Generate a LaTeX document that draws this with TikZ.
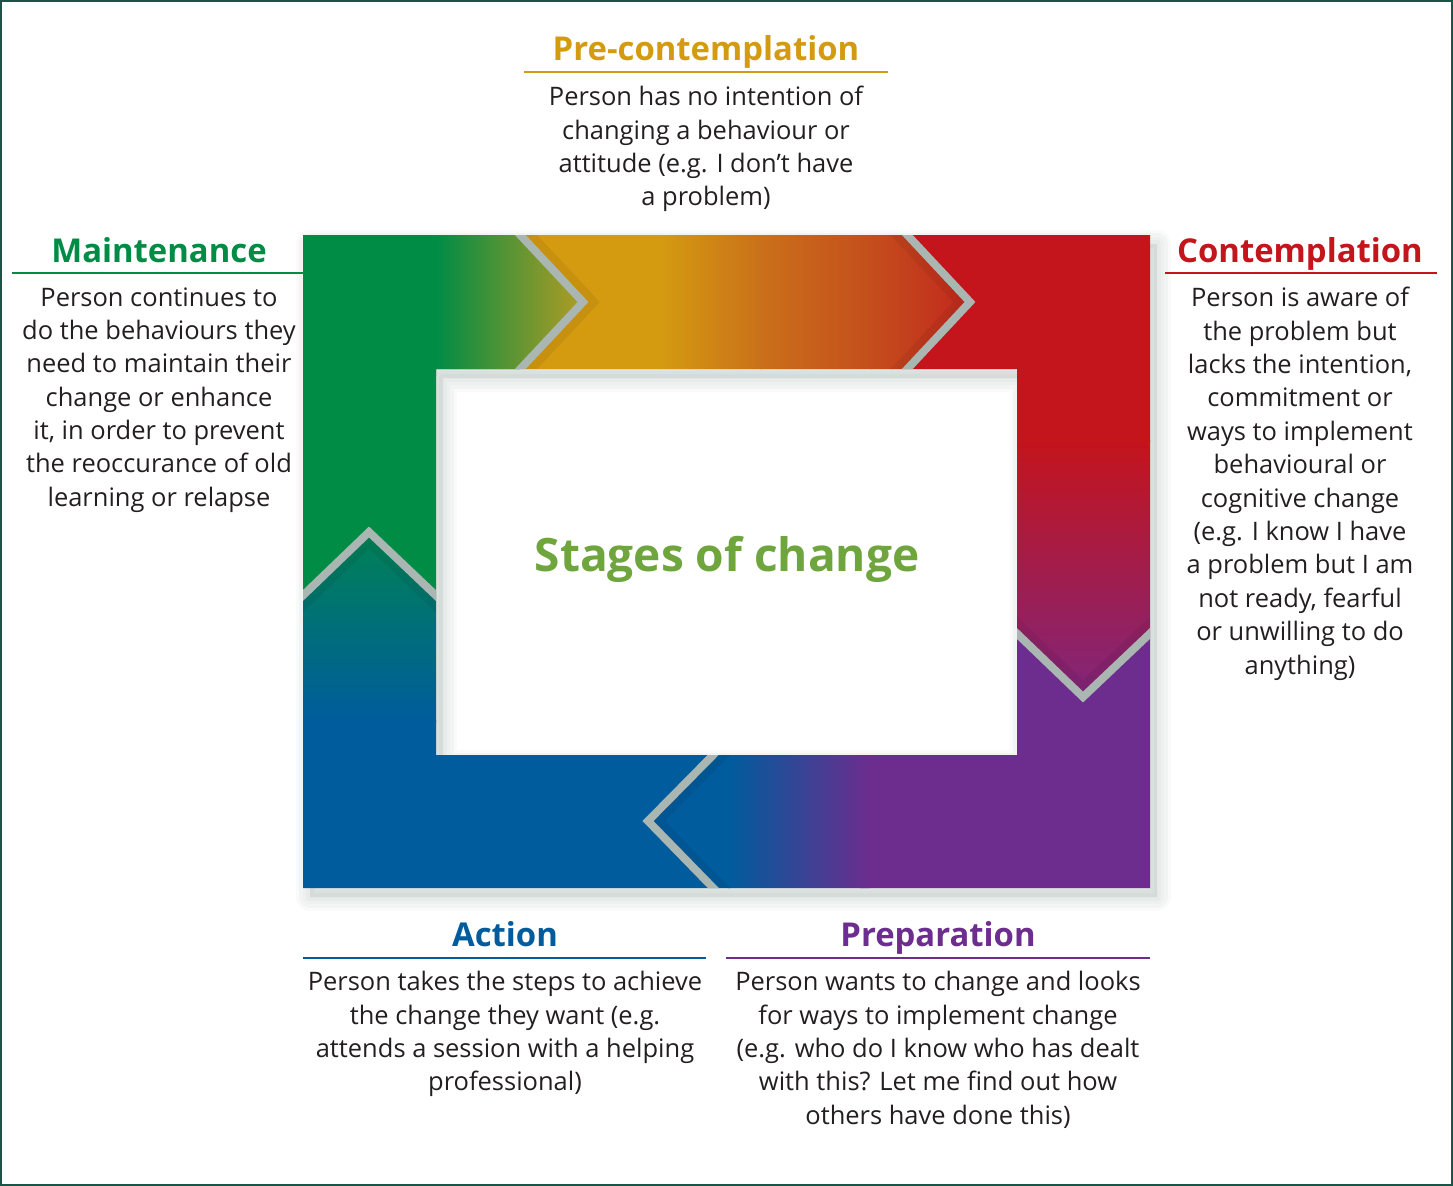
\documentclass[tikz,border=0pt]{standalone}
\usepackage{fontspec}
\setmainfont{Open Sans}

\definecolor{cgreen}{RGB}{0,140,69}
\definecolor{colive}{RGB}{178,156,35}
\definecolor{cyellow}{RGB}{212,155,16}
\definecolor{corange}{RGB}{202,112,26}
\definecolor{cdeeporange}{RGB}{196,78,28}
\definecolor{credorange}{RGB}{194,38,30}
\definecolor{cred}{RGB}{196,20,28}
\definecolor{cplum}{RGB}{128,38,124}
\definecolor{cpurple}{RGB}{108,45,142}
\definecolor{cblue}{RGB}{0,92,157}
\definecolor{cteal}{RGB}{0,130,84}
\definecolor{ctitle}{RGB}{110,165,60}
\definecolor{cchevron}{RGB}{170,182,178}
\definecolor{cframe}{RGB}{25,85,70}
\definecolor{ctext}{RGB}{35,31,32}
\definecolor{cshadow}{RGB}{50,85,75}

\begin{document}
\begin{tikzpicture}[x=0.02cm, y=-0.02cm,
    heading/.style={font=\fontsize{18.7}{22}\selectfont\bfseries, inner sep=0pt, anchor=base},
    body/.style={font=\fontsize{14.5}{19}\selectfont, text=ctext, align=center, inner sep=0pt, anchor=north},
    rule/.style={line width=1pt},
    chevron/.style={cchevron, line width=4.5pt, line join=miter},
    chevshade/.style={black, opacity=0.06, line width=9pt, line join=miter},
    shadowline/.style={cshadow, opacity=0.03, line join=round}
]

\useasboundingbox (0,0) rectangle (1453,1186);
\draw[cframe, line width=1.2pt] (1,1) rectangle (1452,1185);

% Shadow under the ring
\begin{scope}[shift={(7,9)}]
\fill[cshadow, opacity=0.1, even odd rule] (303,235) rectangle (1150,888) (436,369) rectangle (1017,755);
\foreach \w in {16,12,8,4}{
    \draw[shadowline, line width=\w pt] (303,235) rectangle (1150,888) (436,369) rectangle (1017,755);
}
\end{scope}

% Maintenance arrow
\begin{scope}
\clip (303,595) -- (303,235) -- (520,235) -- (583,302) -- (520,369) -- (436,369) -- (436,595) -- (369,532) -- cycle;
\fill[cgreen] (290,220) rectangle (600,610);
\shade[left color=cgreen, right color=colive] (436,230) rectangle (584,375);
\end{scope}

% Pre-contemplation arrow
\begin{scope}
\clip (520,235) -- (907,235) -- (970,302) -- (907,369) -- (520,369) -- (583,302) -- cycle;
\fill[cyellow] (510,230) rectangle (662,375);
\shade[left color=cyellow, right color=corange] (660,230) rectangle (762,375);
\shade[left color=corange, right color=cdeeporange] (760,230) rectangle (872,375);
\shade[left color=cdeeporange, right color=credorange] (870,230) rectangle (975,375);
\end{scope}

% Contemplation arrow
\begin{scope}
\clip (907,235) -- (1150,235) -- (1150,633) -- (1083,697) -- (1017,633) -- (1017,369) -- (907,369) -- (970,302) -- cycle;
\fill[cred] (900,230) rectangle (1160,442);
\shade[top color=cred, bottom color=cplum] (1010,440) rectangle (1160,700);
\end{scope}

% Preparation arrow
\begin{scope}
\clip (1017,633) -- (1083,697) -- (1150,633) -- (1150,888) -- (713,888) -- (648,821) -- (713,755) -- (1017,755) -- cycle;
\fill[cpurple] (860,620) rectangle (1160,895);
\fill[cblue] (640,750) rectangle (730,895);
\shade[left color=cblue, right color=cpurple] (728,750) rectangle (870,895);
\end{scope}

% Action arrow
\begin{scope}
\clip (713,755) -- (648,821) -- (713,888) -- (303,888) -- (303,595) -- (369,532) -- (436,595) -- (436,755) -- cycle;
\fill[cblue] (295,720) rectangle (720,895);
\shade[top color=cteal, bottom color=cblue] (295,530) rectangle (440,722);
\end{scope}

% Chevrons between the stages
\begin{scope}[even odd rule]
\clip (303,235) rectangle (1150,888) (436,369) rectangle (1017,755);
\draw[chevshade] (516,224) -- (589,302) -- (516,380);
\draw[chevshade] (891,224) -- (964,302) -- (891,380);
\draw[chevshade] (1006,617) -- (1083,691) -- (1161,617);
\draw[chevshade] (730,744) -- (654,821) -- (730,899);
\draw[chevshade] (292,612) -- (369,538) -- (447,612);
\draw[chevron] (510,224) -- (583,302) -- (510,380);
\draw[chevron] (897,224) -- (970,302) -- (897,380);
\draw[chevron] (1006,623) -- (1083,697) -- (1161,623);
\draw[chevron] (724,744) -- (648,821) -- (724,899);
\draw[chevron] (292,606) -- (369,532) -- (447,606);
\end{scope}

\node[font=\fontsize{26.2}{30}\selectfont\bfseries, text=ctitle] (title) at (727,559) {Stages of change};

% Pre-contemplation
\node[heading, text=cyellow] (precon) at (706,61) {Pre-contemplation};
\draw[rule, cyellow] (524,72) -- (888,72);
\node[body] (preconbody) at (706,86) {Person has no intention of\\changing a behaviour or\\attitude (e.g. I don’t have\\a problem)};

% Contemplation
\node[heading, text=cred] (con) at (1300,262) {Contemplation};
\draw[rule, cred] (1165,273) -- (1437,273);
\node[body] (conbody) at (1300,287) {Person is aware of\\the problem but\\lacks the intention,\\commitment or\\ways to implement\\behavioural or\\cognitive change\\(e.g. I know I have\\a problem but I am\\not ready, fearful\\or unwilling to do\\anything)};

% Preparation
\node[heading, text=cpurple] (prep) at (938,946) {Preparation};
\draw[rule, cpurple] (726,958) -- (1150,958);
\node[body] (prepbody) at (938,971) {Person wants to change and looks\\for ways to implement change\\(e.g. who do I know who has dealt\\with this? Let me find out how\\others have done this)};

% Action
\node[heading, text=cblue] (act) at (505,946) {Action};
\draw[rule, cblue] (303,958) -- (706,958);
\node[body] (actbody) at (505,971) {Person takes the steps to achieve\\the change they want (e.g.\\attends a session with a helping\\professional)};

% Maintenance
\node[heading, text=cgreen] (maint) at (159,262) {Maintenance};
\draw[rule, cgreen] (12,273) -- (303,273);
\node[body] (maintbody) at (159,287) {Person continues to\\do the behaviours they\\need to maintain their\\change or enhance\\it, in order to prevent\\the reoccurance of old\\learning or relapse};

\end{tikzpicture}
\end{document}
